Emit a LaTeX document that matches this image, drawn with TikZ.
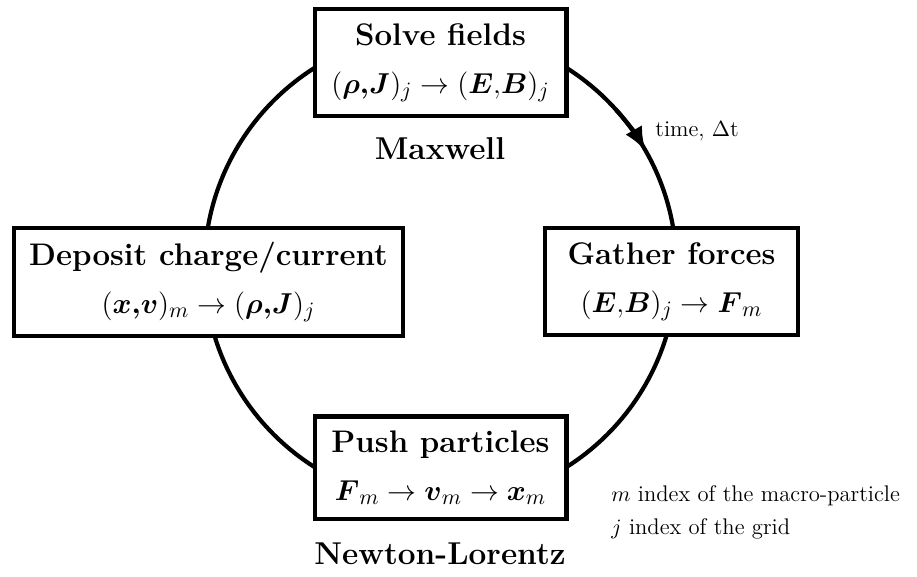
\documentclass[tikz,border=0pt]{standalone}
\usepackage{amsmath}
\usetikzlibrary{shadows,arrows.meta,calc}
\newcommand{\boxtitle}[1]{{\fontsize{15.6}{24}\selectfont\bfseries #1}}
\begin{document}
\begin{tikzpicture}[x=0.5pt,y=0.5pt,
  stepbox/.style={draw=black, line width=2.2pt, fill=white, align=center,
    inner sep=0pt, font=\fontsize{15}{24}\selectfont,
    drop shadow={shadow xshift=1pt, shadow yshift=-1pt, opacity=0.35, fill=black!60}},
  cyclelabel/.style={font=\fontsize{15.8}{18}\selectfont\bfseries, anchor=base},
  note/.style={font=\fontsize{11.3}{14}\selectfont, anchor=base west, inner sep=0pt},
  cycleline/.style={line width=2.1pt}]
\useasboundingbox (0,0) rectangle (917,577);
\coordinate (C) at (440.5,309.5);
\draw[cycleline] (C) circle[radius=118pt];
\draw[cycleline, -{Latex[length=12pt,width=9.5pt]}] ($(C)+(42:118pt)$) arc[start angle=42, end angle=29.6, radius=118pt];
\node[stepbox, minimum width=125.8pt, minimum height=53.3pt] (solve) at (440.5,514.5)
  {\boxtitle{Solve fields}\\ $(\boldsymbol{\rho{,}J})_j \rightarrow (\boldsymbol{E}{,}\boldsymbol{B})_j$};
\node[stepbox, minimum width=194.3pt, minimum height=53.8pt] (deposit) at (208.5,295)
  {\boxtitle{Deposit charge/current}\\ $(\boldsymbol{x{,}v})_m \rightarrow (\boldsymbol{\rho{,}J})_j$};
\node[stepbox, minimum width=126.3pt, minimum height=53.3pt] (gather) at (671.5,295.5)
  {\boxtitle{Gather forces}\\ $(\boldsymbol{E}{,}\boldsymbol{B})_j \rightarrow \boldsymbol{F}_m$};
\node[stepbox, minimum width=125.8pt, minimum height=51.3pt] (push) at (440.5,109)
  {\boxtitle{Push particles}\\ $\boldsymbol{F}_m \rightarrow \boldsymbol{v}_m \rightarrow \boldsymbol{x}_m$};
\node[cyclelabel] (maxwell) at (440,417) {Maxwell};
\node[cyclelabel] (newton) at (440,12) {Newton-Lorentz};
\node[note] (time) at (655,440) {time, $\Delta$t};
\node[note] (mnote) at (611,75) {$m$ index of the macro-particle};
\node[note] (jnote) at (611,42) {$j$ index of the grid};
\end{tikzpicture}
\end{document}
